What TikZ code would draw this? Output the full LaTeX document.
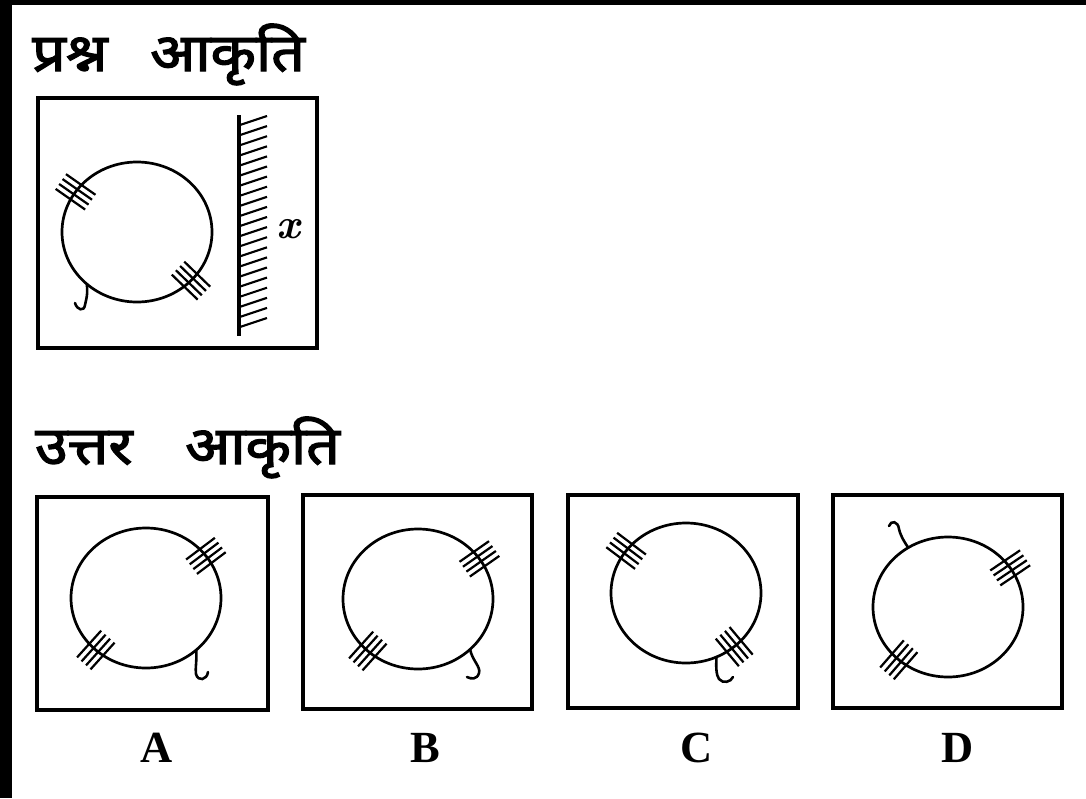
\documentclass[tikz,border=0pt]{standalone}
\usepackage{fontspec}
\newfontfamily\deva[Script=Devanagari,FakeBold=2.5,FakeStretch=1.12]{Noto Sans}
\newfontfamily\labfont{Liberation Serif}
\usetikzlibrary{calc}
\tikzset{
  boxframe/.style={draw=black,line width=2.8pt},
  ring/.style={draw=black,line width=2.3pt},
  hatchline/.style={draw=black,line width=1.9pt},
  hookline/.style={draw=black,line width=2.2pt,line cap=round},
  mirrorline/.style={draw=black,line width=2.6pt},
  mirrortick/.style={draw=black,line width=1.8pt},
  heading/.style={anchor=base west,inner sep=0pt,font=\deva\fontsize{45}{50}\selectfont},
  optlabel/.style={anchor=base,inner sep=0pt,font=\labfont\bfseries\fontsize{38}{42}\selectfont}
}
\newcommand\hatchmark[2]{%
  \pgfmathsetmacro\hA{#2}%
  \pgfmathsetmacro\hT{#2+90}%
  \foreach \k in {-1.5,-0.5,0.5,1.5}{%
    \pgfmathsetmacro\hO{\k*6}%
    \draw[hatchline] ($(#1)+(\hA:75 and 70)+(\hT:\hO)+(\hA:-18)$) -- ++(\hA:36);
  }%
}
\begin{document}
\begin{tikzpicture}[x=0.03cm,y=-0.03cm]
\useasboundingbox (0,0) rectangle (1086,798);
\fill[white] (0,0) rectangle (1086,798);
\fill[black] (0,0) rectangle (1086,5);
\fill[black] (0,0) rectangle (12,798);

% headings
\node[heading] (h1a) at (32,71) {प्रश्न};
\node[heading] (h1b) at (150,71) {आकृति};
\node[heading] (h2a) at (35,464) {उत्तर};
\node[heading] (h2b) at (185,464) {आकृति};

% question figure
\draw[boxframe] (38,98) rectangle (317,348);
\coordinate (qc) at (137,232);
\draw[ring] (qc) ellipse [x radius=75,y radius=70];
\hatchmark{qc}{-145}
\hatchmark{qc}{44}
\coordinate (qh) at ($(qc)+(132:75 and 70)$);
\draw[hookline] (qh) .. controls (88,295) and (86,300) .. (85,305) .. controls (84,312) and (77,310) .. (75,303);
% mirror
\coordinate (mt) at (239,115);
\coordinate (mb) at (239,336);
\draw[mirrorline] (mt) -- (mb);
\foreach \i in {0,...,20}{
  \draw[mirrortick] ($(mt)+(1,10+\i*10.1)$) -- ++(27,-9);
}
\node[font=\bfseries\itshape\fontsize{36}{40}\selectfont,inner sep=0pt] (xl) at (288,229) {x};

% answer figures
\draw[boxframe] (37,497) rectangle (268,710);
\coordinate (ac) at (146,598);
\draw[ring] (ac) ellipse [x radius=75,y radius=70];
\hatchmark{ac}{-37}
\hatchmark{ac}{132}
\coordinate (ah) at ($(ac)+(48:75 and 70)$);
\draw[hookline] (ah) .. controls (197,662) and (195,668) .. (196,674) .. controls (198,682) and (207,680) .. (208,672);
\node[optlabel] (la) at (157,762) {A};

\draw[boxframe] (303,495) rectangle (532,709);
\coordinate (bc) at (418,599);
\draw[ring] (bc) ellipse [x radius=75,y radius=70];
\hatchmark{bc}{-35}
\hatchmark{bc}{132}
\coordinate (bh) at ($(bc)+(46:75 and 70)$);
\draw[hookline] (bh) .. controls (472,660) and (481,667) .. (479,673) .. controls (477,680) and (471,679) .. (467,677);
\node[optlabel] (lb) at (425,762) {B};

\draw[boxframe] (568,495) rectangle (798,708);
\coordinate (cc) at (686,593);
\draw[ring] (cc) ellipse [x radius=75,y radius=70];
\hatchmark{cc}{-143}
\hatchmark{cc}{50}
\coordinate (ch) at ($(cc)+(66:75 and 70)$);
\draw[hookline] (ch) .. controls (716,666) and (716,675) .. (719,679) .. controls (723,684) and (731,682) .. (733,677);
\node[optlabel] (lc) at (697,762) {C};

\draw[boxframe] (833,495) rectangle (1062,708);
\coordinate (dc) at (948,607);
\draw[ring] (dc) ellipse [x radius=75,y radius=70];
\hatchmark{dc}{-34}
\hatchmark{dc}{131}
\coordinate (dh) at ($(dc)+(-122:75 and 70)$);
\draw[hookline] (dh) .. controls (903,540) and (900,534) .. (899,529) .. controls (898,521) and (891,520) .. (889,526);
\node[optlabel] (ld) at (958,762) {D};
\end{tikzpicture}
\end{document}
